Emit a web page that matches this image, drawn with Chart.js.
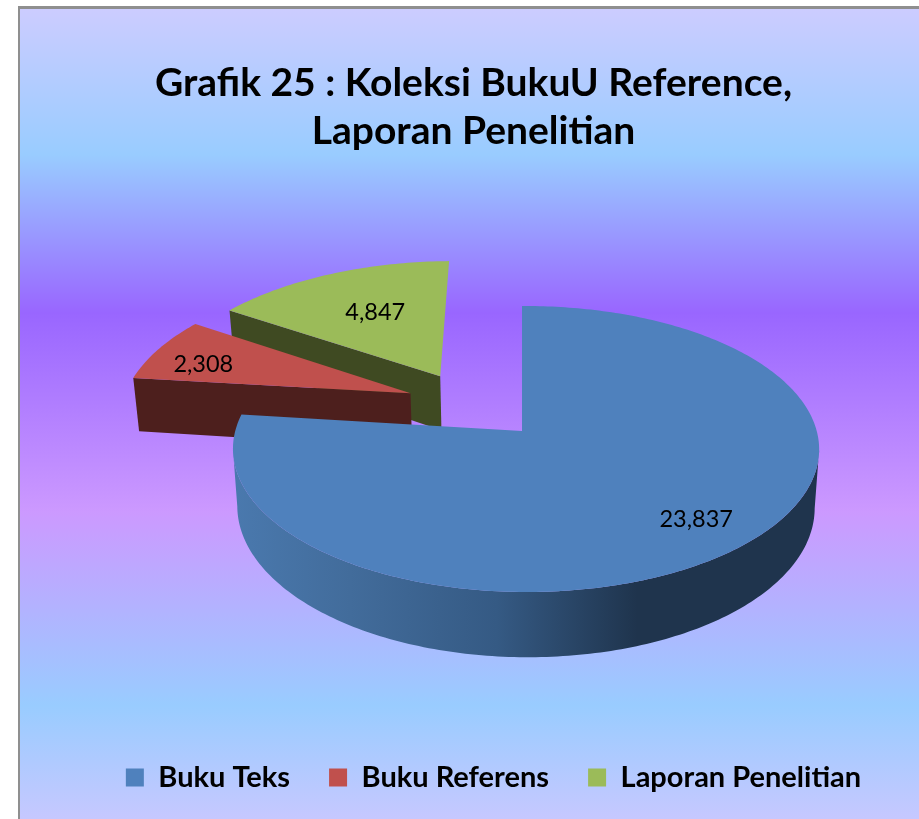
<!DOCTYPE html>
<html>
<head>
<meta charset="utf-8">
<style>html,body{margin:0;padding:0;background:#fff}#wrap{width:919px;height:819px}canvas{display:block}</style>
<script src="https://cdn.jsdelivr.net/npm/chart.js@4"></script>
</head>
<body>
<div id="wrap"><canvas id="c"></canvas></div>
<script>
const categories = ['Buku Teks', 'Buku Referens', 'Laporan Penelitian'];
const values = [23837, 2308, 4847];
const sliceColors = ['#4f81bd', '#c0504d', '#9bbb59'];
const titleLines = ['Grafik 25 : Koleksi BukuU Reference,', 'Laporan Penelitian'];

// 3D look: a perspective projection of the unit disc that the arc elements live on
const view = { x0: 522, y0: 431, bx: 290.7, by: 140.7, k: 0.126, m: 0.0137, depth: 57, shrink: 0.985 };
const explode = [[0, 0], [-0.399, -0.279], [-0.297, -0.41]];
const sliceScale = [1, 1.04, 1.02];
const labelRadius = [0.8, 0.8, 0.6];
const labelNudge = [[6, -3], [-11, 6], [3, -1]];
const wallStops = [
  [[0, '#4a79ae'], [0.2, '#426c9b'], [0.45, '#355a84'], [0.69, '#1f344d'], [1, '#1f344d']],
  [[0, '#4d1f1d'], [1, '#4d1f1d']],
  [[0, '#3f4a22'], [1, '#3f4a22']]
];
const drawOrder = [2, 1, 0];

function project(u, v) {
  const w = 1 - view.k * v - view.m * u;
  return { x: view.x0 + view.bx * u / w, y: view.y0 + view.by * v / w, w };
}
function bottom(p) {
  return { x: view.x0 + (p.x - view.x0) * view.shrink, y: p.y + view.depth / p.w };
}
function outline(arc, i) {
  const [ox, oy] = explode[i];
  const r = sliceScale[i];
  const pts = [project(ox, oy)];
  const n = Math.max(8, Math.ceil((arc.endAngle - arc.startAngle) * 60));
  for (let s = 0; s <= n; s++) {
    const a = arc.startAngle + (arc.endAngle - arc.startAngle) * s / n;
    pts.push(project(ox + r * Math.cos(a), oy + r * Math.sin(a)));
  }
  return pts;
}
function fillPoly(ctx, pts, style) {
  ctx.beginPath();
  pts.forEach((p, i) => i ? ctx.lineTo(p.x, p.y) : ctx.moveTo(p.x, p.y));
  ctx.closePath();
  ctx.fillStyle = style;
  ctx.fill();
}
function wallRuns(pts) {
  const runs = [];
  let run = null;
  pts.forEach((p, j) => {
    const q = pts[(j + 1) % pts.length];
    const radial = j === 0 || j === pts.length - 1;
    const steep = Math.abs(q.y - p.y) > 3 * Math.abs(q.x - p.x);
    const visible = q.x < p.x && !(radial && steep);
    if (visible) {
      if (!run) { run = [p]; runs.push(run); }
      run.push(q);
    } else {
      run = null;
    }
  });
  return runs;
}

const backdrop = {
  id: 'backdrop',
  beforeDraw(chart) {
    const { ctx, width, height } = chart;
    const L = 20, T = 9;
    const g = ctx.createLinearGradient(0, T, 0, height);
    [[0, '#ccccff'], [0.18, '#99ccff'], [0.375, '#9966ff'], [0.62, '#cc99ff'], [0.86, '#99ccff'], [1, '#c6c8ff']]
      .forEach(s => g.addColorStop(s[0], s[1]));
    ctx.save();
    ctx.fillStyle = '#8f8f8f';
    ctx.fillRect(L - 2, T - 3, width, height);
    ctx.fillStyle = g;
    ctx.fillRect(L, T, width, height);
    ctx.restore();
  },
  afterLayout(chart) {
    chart.titleBlock.left += 14; chart.titleBlock.right += 14;
    chart.legend.left += 34; chart.legend.right += 34;
  }
};

const pie3d = {
  id: 'pie3d',
  beforeDatasetsDraw(chart) {
    const { ctx } = chart;
    const arcs = chart.getDatasetMeta(0).data;
    ctx.save();
    drawOrder.forEach(i => {
      const pts = outline(arcs[i], i);
      const xs = pts.map(p => p.x);
      const g = ctx.createLinearGradient(Math.min(...xs), 0, Math.max(...xs), 0);
      wallStops[i].forEach(s => g.addColorStop(s[0], s[1]));
      wallRuns(pts).forEach(run => {
        fillPoly(ctx, run.concat(run.map(bottom).reverse()), g);
      });
      fillPoly(ctx, pts, arcs[i].options.backgroundColor);
    });
    ctx.fillStyle = '#000';
    ctx.font = '23.5px Lato';
    ctx.textAlign = 'center';
    ctx.textBaseline = 'middle';
    arcs.forEach((arc, i) => {
      const mid = (arc.startAngle + arc.endAngle) / 2;
      const p = project(explode[i][0] + labelRadius[i] * Math.cos(mid),
                        explode[i][1] + labelRadius[i] * Math.sin(mid));
      ctx.fillText(values[i].toLocaleString('en-US'), p.x + labelNudge[i][0], p.y + labelNudge[i][1]);
    });
    ctx.restore();
    return false;
  }
};

new Chart(document.getElementById('c'), {
  type: 'pie',
  data: {
    labels: categories,
    datasets: [{ data: values, backgroundColor: sliceColors, borderWidth: 0 }]
  },
  plugins: [backdrop, pie3d],
  options: {
    responsive: true,
    maintainAspectRatio: false,
    animation: false,
    layout: { padding: { bottom: 17 } },
    plugins: {
      tooltip: { enabled: false },
      title: {
        display: true,
        text: titleLines,
        color: '#000',
        font: { family: 'Lato', size: 39, weight: 'bold', lineHeight: 1.23 },
        padding: { top: 59, bottom: 0 }
      },
      legend: {
        display: true,
        position: 'bottom',
        labels: {
          color: '#000',
          font: { family: 'Lato', size: 29, weight: 'bold' },
          boxWidth: 18,
          boxHeight: 18,
          padding: 39
        }
      }
    }
  }
});
</script>
</body>
</html>
